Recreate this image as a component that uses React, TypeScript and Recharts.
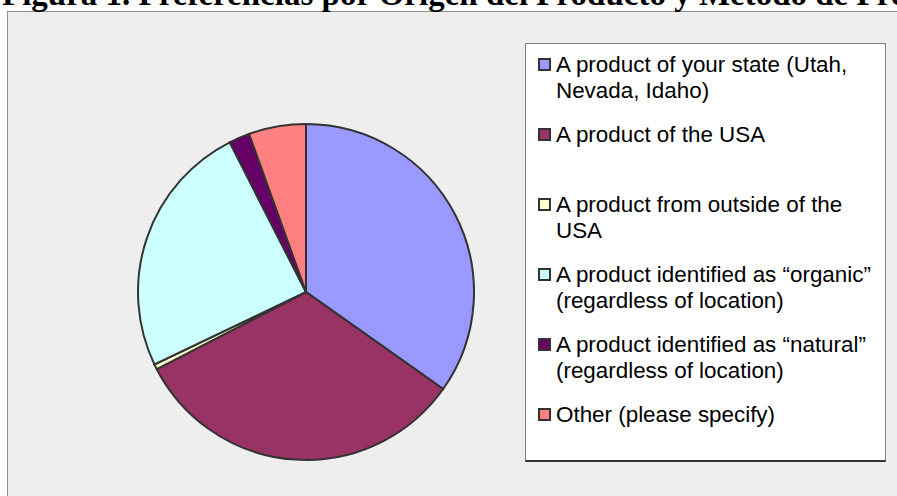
import { PieChart, Pie, Cell, Legend } from "recharts";

// Survey answers, in legend order (slices run clockwise from 12 o'clock)
const origins = [
  "A product of your state (Utah,\nNevada, Idaho)",
  "A product of the USA",
  "A product from outside of the\nUSA",
  "A product identified as \u201corganic\u201d\n(regardless of location)",
  "A product identified as \u201cnatural\u201d\n(regardless of location)",
  "Other (please specify)",
];
const shares = [34.8, 32.6, 0.5, 24.6, 2.0, 5.5];
const colors = ["#9999ff", "#993366", "#ffffcc", "#ccffff", "#660066", "#ff8080"];
const title = "Figura 1. Preferencias por Origen del Producto y Método de Producción";

function OriginLegend() {
  return (
    <div
      style={{
        width: 361,
        height: 419,
        boxSizing: "border-box",
        background: "#ffffff",
        border: "1px solid #808080",
        borderBottom: "2px solid #333333",
        paddingTop: 8,
      }}
    >
      {origins.map((label, i) => (
        <div key={i} style={{ position: "relative", height: 70, paddingLeft: 30 }}>
          <span
            style={{
              position: "absolute",
              left: 12,
              top: 6,
              width: 9,
              height: 9,
              background: colors[i],
              border: "2px solid #333333",
            }}
          />
          <div
            style={{
              whiteSpace: "pre",
              fontFamily: "'Liberation Sans', Arial, sans-serif",
              fontSize: 22.4,
              lineHeight: "25.6px",
              color: "#000",
            }}
          >
            {label}
          </div>
        </div>
      ))}
    </div>
  );
}

export default function App() {
  const data = origins.map((name, i) => ({ name, value: shares[i], fill: colors[i] }));

  return (
    <div style={{ position: "absolute", left: 0, top: 0, width: 897, height: 496, overflow: "hidden", background: "#fff" }}>
      {/* grey plot frame, runs off the right and bottom edges */}
      <div
        style={{
          position: "absolute",
          left: 7,
          top: 11,
          width: 900,
          height: 500,
          background: "#eeeeee",
          border: "1px solid #8c8c8c",
        }}
      />
      <div style={{ position: "absolute", left: 0, top: 0 }}>
        <PieChart width={897} height={496} margin={{ top: 0, right: 0, bottom: 0, left: 0 }}>
          <Pie
            data={data}
            dataKey="value"
            nameKey="name"
            cx={306}
            cy={292}
            outerRadius={168}
            startAngle={90}
            endAngle={-270}
            stroke="#333333"
            strokeWidth={2}
            isAnimationActive={false}
          >
            {data.map((d, i) => (
              <Cell key={d.name} fill={colors[i]} />
            ))}
          </Pie>
          <Legend
            layout="vertical"
            align="right"
            verticalAlign="top"
            content={() => <OriginLegend />}
            wrapperStyle={{ left: 525, top: 43, width: 361, height: 419 }}
          />
        </PieChart>
      </div>
      {/* title, clipped at the top like the source scan */}
      <div
        style={{
          position: "absolute",
          left: 2,
          top: -22,
          whiteSpace: "nowrap",
          fontFamily: "'Liberation Serif', 'Times New Roman', serif",
          fontWeight: "bold",
          fontSize: 33,
          lineHeight: "32px",
          color: "#000",
        }}
      >
        {title}
      </div>
    </div>
  );
}
